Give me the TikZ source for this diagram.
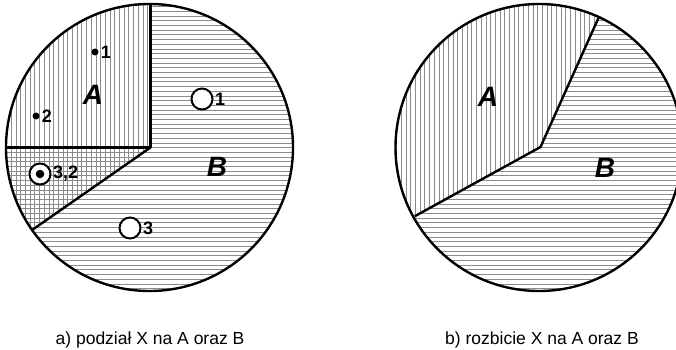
\documentclass[tikz,border=0pt]{standalone}
\usepackage{fontspec}
\setmainfont{Liberation Sans}
\begin{document}
\begin{tikzpicture}[x=1pt,y=-1pt,
  hatch/.style={black!45, line width=0.9pt},
  outline/.style={line width=2.4pt, line join=round},
  big/.style={font=\fontsize{28}{28}\selectfont\bfseries\itshape, inner sep=0pt},
  num/.style={font=\fontsize{18}{18}\selectfont\bfseries, inner sep=0pt, anchor=west},
  captext/.style={font=\fontsize{17.5}{18}\selectfont, anchor=base, inner sep=0pt},
  opendot/.style={draw, circle, line width=2pt, fill=white, minimum size=21pt, inner sep=0pt},
  soliddot/.style={circle, fill=black, minimum size=7pt, inner sep=0pt}]
\useasboundingbox (0,0) rectangle (676,350);

% ---------- left circle ----------
\coordinate (LC) at (149.5,147.5);
\coordinate (LM) at (150.5,147.5);
\coordinate (LT) at (150.5,4);
\coordinate (LL) at (6,147.5);
\coordinate (LD) at (32.1,230);
% A region: vertical hatching
\begin{scope}
  \clip (LC) circle[radius=143.5pt];
  \clip (150.5,-10) -- (LM) -- (-10,259.3) -- (-10,-10) -- cycle;
  \foreach \x in {2,6.7,...,160} \draw[hatch] (\x,-10) -- (\x,300);
\end{scope}
% B region: horizontal hatching
\begin{scope}
  \clip (LC) circle[radius=143.5pt];
  \clip (150.5,-10) -- (310,-10) -- (310,300) -- (-10,300) -- (-10,147.5) -- (LM) -- cycle;
  \foreach \y in {2,6.7,...,300} \draw[hatch] (-10,\y) -- (310,\y);
\end{scope}
\draw[outline] (LC) circle[radius=143.5pt];
\draw[outline] (LT) -- (LM) -- (LL);
\draw[outline] (LM) -- (LD);

\node[big] (la) at (93,95) {A};
\node[big] (lb) at (217,167) {B};
\node[soliddot] (d1) at (95,52) {};
\node[num] (n1) at ([xshift=2pt]d1.east) {1};
\node[soliddot] (d2) at (36,116) {};
\node[num] (n2) at ([xshift=2pt]d2.east) {2};
\node[opendot] (o1) at (202,99) {};
\node[num] (m1) at ([xshift=1.5pt]o1.east) {1};
\node[opendot] (o3) at (130,228) {};
\node[num] (m3) at ([xshift=1.5pt]o3.east) {3};
\node[opendot] (o32) at (40,174) {};
\node[soliddot, minimum size=8.5pt] (d32) at (o32.center) {};
\node[num] (m32) at ([xshift=1.5pt]o32.east) {3,2};

% ---------- right circle ----------
\coordinate (RC) at (539,147.5);
\coordinate (RM) at (540.5,147);
\coordinate (RU) at (599.3,16.1);
\coordinate (RD) at (414.8,216.2);
\begin{scope}
  \clip (RC) circle[radius=143.5pt];
  \clip (611,-10) -- (RM) -- (380,235.4) -- (380,-10) -- cycle;
  \foreach \x in {392,396.7,...,620} \draw[hatch] (\x,-10) -- (\x,300);
\end{scope}
\begin{scope}
  \clip (RC) circle[radius=143.5pt];
  \clip (611,-10) -- (700,-10) -- (700,300) -- (380,300) -- (380,235.4) -- (RM) -- cycle;
  \foreach \y in {2,6.7,...,300} \draw[hatch] (380,\y) -- (700,\y);
\end{scope}
\draw[outline] (RC) circle[radius=143.5pt];
\draw[outline] (RU) -- (RM) -- (RD);

\node[big] (ra) at (488,97) {A};
\node[big] (rb) at (605,168) {B};

% ---------- captions ----------
\node[captext] (capa) at (150,344) {a) podział X na A oraz B};
\node[captext] (capb) at (542,344) {b) rozbicie X na A oraz B};
\end{tikzpicture}
\end{document}
